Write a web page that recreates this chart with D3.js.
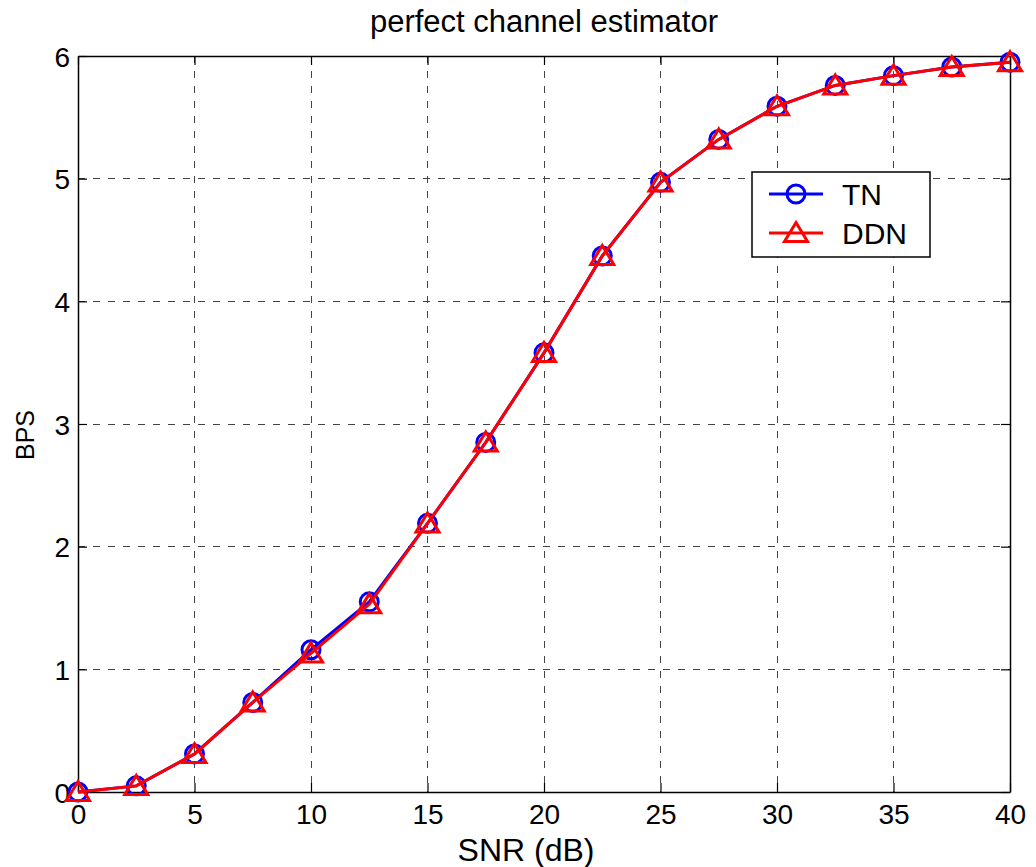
<!DOCTYPE html>
<html>
<head>
<meta charset="utf-8">
<script src="https://cdn.jsdelivr.net/npm/d3@7"></script>
<style>
  html, body { margin: 0; padding: 0; background: #fff; }
  svg { display: block; font-family: "Liberation Sans", Arial, sans-serif; }
</style>
</head>
<body>
<svg id="chart" width="1036" height="867"></svg>
<script>
// SNR sweep (dB)
const snr = [0, 2.5, 5, 7.5, 10, 12.5, 15, 17.5, 20, 22.5, 25, 27.5, 30, 32.5, 35, 37.5, 40];
// Bits per symbol, TN detector
const tn  = [0.00, 0.05, 0.31, 0.73, 1.16, 1.55, 2.19, 2.85, 3.58, 4.37, 4.97, 5.32, 5.59, 5.76, 5.84, 5.91, 5.95];
// Bits per symbol, DDN detector
const ddn = [0.00, 0.05, 0.31, 0.73, 1.13, 1.53, 2.19, 2.85, 3.58, 4.37, 4.97, 5.32, 5.59, 5.76, 5.84, 5.91, 5.95];

const xTicks = [0, 5, 10, 15, 20, 25, 30, 35, 40];
const yTicks = [0, 1, 2, 3, 4, 5, 6];

const titleText = "perfect channel estimator";
const xLabel = "SNR (dB)";
const yLabel = "BPS";
const seriesNames = ["TN", "DDN"];

const svg = d3.select("#chart");
const L = 78, R = 1010, T = 56, B = 792;

const x = d3.scaleLinear().domain([0, 40]).range([L, R]);
const y = d3.scaleLinear().domain([0, 6]).range([B, T]);

// grid
const grid = svg.append("g").attr("stroke", "#444").attr("stroke-width", 1)
  .attr("stroke-dasharray", "7,8").attr("shape-rendering", "crispEdges");
xTicks.slice(1, -1).forEach(v => {
  grid.append("line").attr("x1", x(v)).attr("x2", x(v)).attr("y1", T).attr("y2", B);
});
yTicks.slice(1, -1).forEach(v => {
  grid.append("line").attr("x1", L).attr("x2", R).attr("y1", y(v)).attr("y2", y(v));
});

// axes with inward ticks on all four sides
const tickLen = 9;
const fmt = d3.format("d");
const axB = svg.append("g").attr("transform", `translate(0,${B})`)
  .call(d3.axisBottom(x).tickValues(xTicks).tickSizeInner(-tickLen).tickSizeOuter(0).tickPadding(12).tickFormat(fmt));
const axT = svg.append("g").attr("transform", `translate(0,${T})`)
  .call(d3.axisTop(x).tickValues(xTicks).tickSizeInner(-tickLen).tickSizeOuter(0).tickFormat(""));
const axL = svg.append("g").attr("transform", `translate(${L},0)`)
  .call(d3.axisLeft(y).tickValues(yTicks).tickSizeInner(-tickLen).tickSizeOuter(0).tickPadding(8).tickFormat(fmt));
const axR = svg.append("g").attr("transform", `translate(${R},0)`)
  .call(d3.axisRight(y).tickValues(yTicks).tickSizeInner(-tickLen).tickSizeOuter(0).tickFormat(""));
[axB, axT, axL, axR].forEach(a => {
  a.selectAll("path.domain").attr("stroke", "#000").attr("stroke-width", 1.5);
  a.selectAll(".tick line").attr("stroke", "#000").attr("stroke-width", 1.2);
  a.selectAll("text").attr("font-size", 28).attr("fill", "#000")
    .style("font-family", "'Liberation Sans', Arial, sans-serif");
});
axB.selectAll("text").attr("dy", "0.71em");
axL.selectAll("text").attr("dy", "0.36em");

// titles
svg.append("text").attr("x", (L + R) / 2).attr("y", 32).attr("text-anchor", "middle")
  .attr("font-size", 31).text(titleText);
svg.append("text").attr("x", 526).attr("y", 861).attr("text-anchor", "middle")
  .attr("font-size", 32).text(xLabel);
svg.append("text").attr("transform", `translate(34,435) rotate(-90)`)
  .attr("text-anchor", "middle").attr("font-size", 25).text(yLabel);

const line = d3.line().x(d => x(d[0])).y(d => y(d[1]));
const tnPts = snr.map((s, i) => [s, tn[i]]);
const ddnPts = snr.map((s, i) => [s, ddn[i]]);

const triPath = (cx, cy) => {
  const hw = 11.5, h = 19;
  return `M${cx},${cy - h * 0.55}L${cx + hw},${cy + h * 0.45}L${cx - hw},${cy + h * 0.45}Z`;
};

// TN series
svg.append("path").datum(tnPts).attr("d", line).attr("fill", "none")
  .attr("stroke", "#0000ff").attr("stroke-width", 3);
svg.append("g").selectAll("circle").data(tnPts).join("circle")
  .attr("cx", d => x(d[0])).attr("cy", d => y(d[1])).attr("r", 9)
  .attr("fill", "none").attr("stroke", "#0000ff").attr("stroke-width", 3);

// DDN series
svg.append("path").datum(ddnPts).attr("d", line).attr("fill", "none")
  .attr("stroke", "#ff0000").attr("stroke-width", 3);
svg.append("g").selectAll("path").data(ddnPts).join("path")
  .attr("d", d => triPath(x(d[0]), y(d[1])))
  .attr("fill", "none").attr("stroke", "#ff0000").attr("stroke-width", 3)
  .attr("stroke-linejoin", "miter");

// legend
const lg = svg.append("g");
lg.append("rect").attr("x", 752).attr("y", 172).attr("width", 178).attr("height", 85)
  .attr("fill", "#fff").attr("stroke", "#000").attr("stroke-width", 1.5);
const legendRows = [
  { name: seriesNames[0], color: "#0000ff", ly: 194, marker: "circle" },
  { name: seriesNames[1], color: "#ff0000", ly: 233, marker: "tri" }
];
legendRows.forEach(r => {
  lg.append("line").attr("x1", 769).attr("x2", 823).attr("y1", r.ly).attr("y2", r.ly)
    .attr("stroke", r.color).attr("stroke-width", 3);
  if (r.marker === "circle") {
    lg.append("circle").attr("cx", 796).attr("cy", r.ly).attr("r", 9)
      .attr("fill", "none").attr("stroke", r.color).attr("stroke-width", 3);
  } else {
    lg.append("path").attr("d", triPath(796, r.ly)).attr("fill", "none")
      .attr("stroke", r.color).attr("stroke-width", 3);
  }
  lg.append("text").attr("x", 842).attr("y", r.ly).attr("dy", "0.36em")
    .attr("font-size", 30).text(r.name);
});
</script>
</body>
</html>
